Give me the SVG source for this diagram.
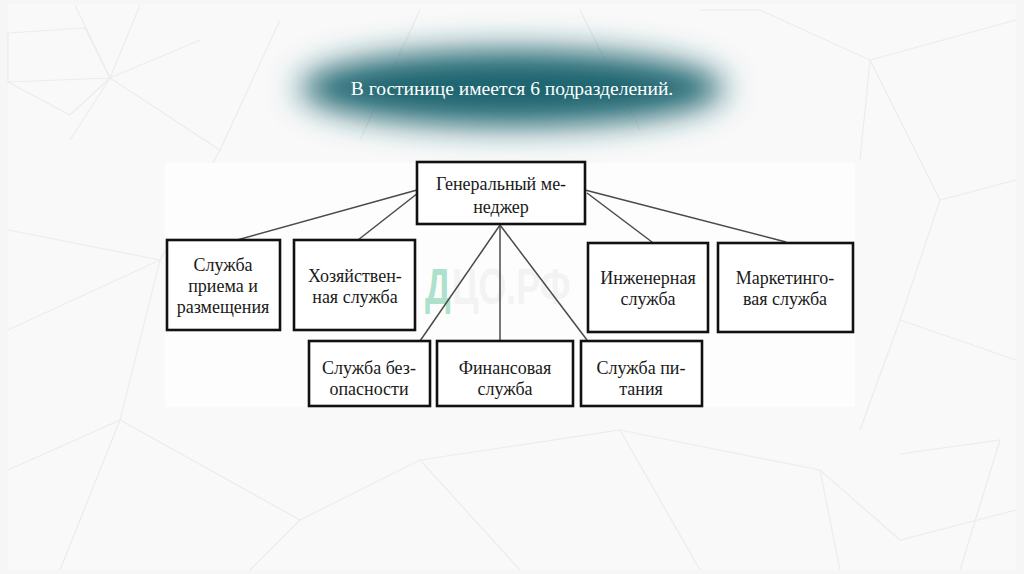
<svg xmlns="http://www.w3.org/2000/svg" width="1024" height="574" viewBox="0 0 1024 574">
<defs>
<filter id="blur" x="-50%" y="-100%" width="200%" height="300%"><feGaussianBlur stdDeviation="16"/></filter>
<style>
.bg{stroke:#ececec;stroke-width:1.2;fill:none}
.box{fill:#ffffff;stroke:#111;stroke-width:2.6}
.t{font-family:'Liberation Serif','DejaVu Serif',serif;font-size:18px;fill:#1a1a1a;text-anchor:middle}
.c{stroke:#4a4a4a;stroke-width:1.5;fill:none}
</style>
</defs>
<rect width="1024" height="574" fill="#f6f6f6"/>
<rect x="8" y="4" width="1008" height="566" fill="#f9f9f9"/>
<g class="bg">
<path d="M8 33 L85 28 L110 78 L8 82 Z"/>
<path d="M75 5 L110 78 L200 40"/>
<path d="M140 5 L110 78 L70 140"/>
<path d="M8 82 L70 115 L110 78"/>
<path d="M110 78 L220 150 L280 20"/>
<path d="M220 150 L160 260 L8 230"/>
<path d="M8 330 L160 260 L120 420 L8 470"/>
<path d="M120 420 L60 570"/>
<path d="M120 420 L300 520 L420 460 L520 570"/>
<path d="M300 520 L250 570"/>
<path d="M420 460 L620 430 L700 570"/>
<path d="M620 430 L820 470 L900 540 L1016 510"/>
<path d="M820 470 L840 570"/>
<path d="M900 454 L1000 440 L960 570"/>
<path d="M870 60 L1016 20"/>
<path d="M870 60 L940 200 L1016 180"/>
<path d="M760 10 L870 60 L860 160"/>
<path d="M940 200 L900 320 L1016 360"/>
<path d="M900 320 L860 430"/>
<path d="M700 10 L760 10"/>
<path d="M580 10 L640 130"/>
<path d="M420 10 L360 140"/>
</g>
<rect x="165" y="163" width="690" height="244" fill="#fdfdfd"/>
<ellipse cx="512" cy="88" rx="212" ry="38" fill="#1d6570" filter="url(#blur)"/>
<text x="512" y="95" font-family="Liberation Serif, DejaVu Serif, serif" font-size="19.5" fill="#ffffff" text-anchor="middle">В гостинице имеется 6 подразделений.</text>
<g id="watermark" font-family="Liberation Sans, Arial, sans-serif" font-weight="bold" font-size="36">
<text transform="translate(425,304) scale(1,1.4)" fill="#9fdcc2" fill-opacity="0.85">Д</text>
<text transform="translate(452,304) scale(1,1.4)" fill="#f3f3f3">ЦО.РФ</text>
</g>
<g id="connectors" class="c">
<line x1="417" y1="190" x2="237" y2="240"/>
<line x1="418" y1="193" x2="358" y2="240"/>
<line x1="585" y1="190" x2="786" y2="242"/>
<line x1="587" y1="193" x2="652" y2="242"/>
<line x1="500" y1="225" x2="420" y2="341"/>
<line x1="500" y1="225" x2="500" y2="341"/>
<line x1="500" y1="225" x2="587" y2="340"/>
</g>
<g id="n0"><rect class="box" x="417" y="162" width="168" height="62"/><text class="t" x="501" y="190">Генеральный ме-</text><text class="t" x="501" y="213">неджер</text></g>
<g id="n1"><rect class="box" x="167" y="240" width="113" height="90"/><text class="t" x="223" y="271">Служба</text><text class="t" x="223" y="292">приема и</text><text class="t" x="223" y="313">размещения</text></g>
<g id="n2"><rect class="box" x="294" y="240" width="121" height="90"/><text class="t" x="355" y="282">Хозяйствен-</text><text class="t" x="355" y="303">ная служба</text></g>
<g id="n3"><rect class="box" x="588" y="243" width="120" height="89"/><text class="t" x="648" y="284">Инженерная</text><text class="t" x="648" y="305">служба</text></g>
<g id="n4"><rect class="box" x="718" y="243" width="135" height="89"/><text class="t" x="785" y="284">Маркетинго-</text><text class="t" x="785" y="305">вая служба</text></g>
<g id="n5"><rect class="box" x="309" y="341" width="121" height="65"/><text class="t" x="369" y="374">Служба без-</text><text class="t" x="369" y="395">опасности</text></g>
<g id="n6"><rect class="box" x="437" y="341" width="136" height="65"/><text class="t" x="505" y="374">Финансовая</text><text class="t" x="505" y="395">служба</text></g>
<g id="n7"><rect class="box" x="581" y="341" width="121" height="65"/><text class="t" x="641" y="374">Служба пи-</text><text class="t" x="641" y="395">тания</text></g>
</svg>
